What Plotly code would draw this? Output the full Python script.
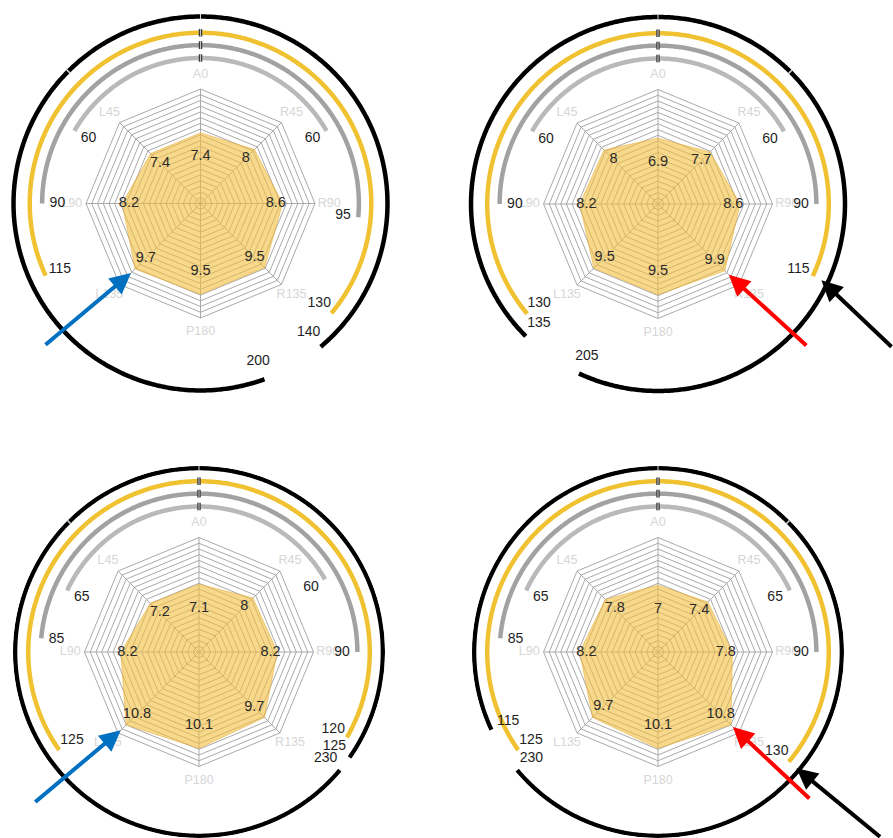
import numpy as np
import plotly.graph_objects as go

# ---- data -------------------------------------------------------------
directions = ["A0", "R45", "R90", "R135", "P180", "L135", "L90", "L45"]
angles = [0, 45, 90, 135, 180, 225, 270, 315]

vals_1 = [7.4, 8, 8.6, 9.5, 9.5, 9.7, 8.2, 7.4]
vals_2 = [6.9, 7.7, 8.6, 9.9, 9.5, 9.5, 8.2, 8]
vals_3 = [7.1, 8, 8.2, 9.7, 10.1, 10.8, 8.2, 7.2]
vals_4 = [7, 7.4, 7.8, 10.8, 10.1, 9.7, 8.2, 7.8]

# arc extents in degrees: (to the left / counter-clockwise, to the right / clockwise)
inner_1, gray_1, yellow_1, black_1 = (60, 60), (90, 95), (115, 130), (200, 140)
inner_2, gray_2, yellow_2, black_2 = (60, 60), (90, 90), (130, 115), (135, 205)
inner_3, gray_3, yellow_3, black_3 = (65, 60), (85, 90), (125, 120), (230, 125)
inner_4, gray_4, yellow_4, black_4 = (65, 65), (85, 90), (125, 130), (115, 230)

# ---- layout constants -------------------------------------------------
W, H = 893, 838
PX_PER_UNIT = 9.54
GRID_MAX = 12
GRID_STEPS = 20

centers = [(200.5, 203.5), (658, 204), (199, 652), (658, 652)]
panel_rpx = [200, 200, 186, 186]
black_r = [19.6, 19.6, 19.28, 19.28]
ring_r = {"inner": 15.25, "gray": 16.6, "yellow": 17.9}
ring_color = {"inner": "#b9b9b9", "gray": "#a2a2a2", "yellow": "#f0c232", "black": "#000000"}
label_off = {"inner": 1.7, "gray": 1.6, "yellow": 1.65, "black": 1.95}
value_off = [2.5, 1.3, 0.7, 1.5, 2.4, 1.6, 0.7, 1.4]
notch_side = [-1, 1, -1, 1]

FONT = "Arial, Liberation Sans, sans-serif"

panels = [
    dict(vals=vals_1, inner=inner_1, gray=gray_1, yellow=yellow_1, black=black_1),
    dict(vals=vals_2, inner=inner_2, gray=gray_2, yellow=yellow_2, black=black_2),
    dict(vals=vals_3, inner=inner_3, gray=gray_3, yellow=yellow_3, black=black_3),
    dict(vals=vals_4, inner=inner_4, gray=gray_4, yellow=yellow_4, black=black_4),
]


def to_paper(i, r, theta):
    cx, cy = centers[i]
    t = np.radians(theta)
    x = cx + r * PX_PER_UNIT * np.sin(t)
    y = cy - r * PX_PER_UNIT * np.cos(t)
    return x / W, 1 - y / H


fig = go.Figure()

for i, p in enumerate(panels):
    sp = "polar" if i == 0 else f"polar{i + 1}"
    common = dict(subplot=sp, showlegend=False, hoverinfo="skip", cliponaxis=False)
    radii = dict(ring_r, black=black_r[i])

    # octagonal grid rings
    rr, tt = [], []
    for k in range(1, GRID_STEPS + 1):
        rv = GRID_MAX * k / GRID_STEPS
        rr += [rv] * 9 + [None]
        tt += angles + [360, None]
    fig.add_trace(go.Scatterpolar(r=rr, theta=tt, mode="lines",
                                  line=dict(color="#a9a9a9", width=1), **common))
    # spokes
    rr, tt = [], []
    for a in angles:
        rr += [0, GRID_MAX, None]
        tt += [a, a, None]
    fig.add_trace(go.Scatterpolar(r=rr, theta=tt, mode="lines",
                                  line=dict(color="#a9a9a9", width=1), **common))
    # filled profile
    fig.add_trace(go.Scatterpolar(r=p["vals"] + [p["vals"][0]], theta=angles + [360],
                                  mode="lines", fill="toself",
                                  fillcolor="rgba(244,190,62,0.6)",
                                  line=dict(color="rgba(232,172,50,0.55)", width=1), **common))
    # value labels
    fig.add_trace(go.Scatterpolar(
        r=[v - o for v, o in zip(p["vals"], value_off)], theta=angles, mode="text",
        text=[f"{v:g}" for v in p["vals"]],
        textfont=dict(family=FONT, size=14.5, color="#2b2b2b"), **common))
    # direction labels
    fig.add_trace(go.Scatterpolar(
        r=[13.5] * 8, theta=angles, mode="text", text=directions,
        textfont=dict(family=FONT, size=12.5, color="#d6d6d6"), **common))

    # arcs
    for name in ["inner", "gray", "yellow", "black"]:
        left, right = p[name]
        th = np.linspace(-left, right, int(left + right) * 2 + 1)
        fig.add_trace(go.Scatterpolar(r=np.full(th.size, radii[name]), theta=th, mode="lines",
                                      line=dict(color=ring_color[name], width=4.5), **common))
    # separators at the top of the rings
    for name in ["inner", "gray", "yellow"]:
        r0 = radii[name]
        fig.add_trace(go.Scatterpolar(r=[r0 - 0.4, r0 + 0.4], theta=[0, 0], mode="lines",
                                      line=dict(color="#3c3c3c", width=3.5), **common))
        fig.add_trace(go.Scatterpolar(r=[r0 - 0.4, r0 + 0.4], theta=[0, 0], mode="lines",
                                      line=dict(color="#e8e8e8", width=0.8), **common))
    rb = radii["black"]
    fig.add_trace(go.Scatterpolar(r=[rb - 0.3, rb + 0.3], theta=[0, 0], mode="lines",
                                  line=dict(color="#d8d8d8", width=1), **common))
    fig.add_trace(go.Scatterpolar(r=[rb - 0.3, rb + 0.3], theta=[45 * notch_side[i]] * 2,
                                  mode="lines", line=dict(color="#d0d0d0", width=1.6), **common))

    # arc end labels
    lr, lt, lx = [], [], []
    for name in ["inner", "gray", "yellow", "black"]:
        left, right = p[name]
        for ang, txt in [(-left, left), (right, right)]:
            lr.append(radii[name] - label_off[name])
            lt.append(ang)
            lx.append(str(txt))
    fig.add_trace(go.Scatterpolar(r=lr, theta=lt, mode="text", text=lx,
                                  textfont=dict(family=FONT, size=14, color="#1e1e1e"), **common))

    cx, cy = centers[i]
    rpx = panel_rpx[i]
    fig.update_layout(**{sp: dict(
        domain=dict(x=[(cx - rpx) / W, (cx + rpx) / W],
                    y=[max(0.0, (H - cy - rpx) / H), min(1.0, (H - cy + rpx) / H)]),
        bgcolor="rgba(0,0,0,0)",
        radialaxis=dict(range=[0, rpx / PX_PER_UNIT], visible=False),
        angularaxis=dict(rotation=90, direction="clockwise", visible=False),
    )})

# arrows pointing at the highlighted corners and ring ends
arrows = [
    (0, vals_1[5] + 0.6, 225, -87, 73, "#0070c0"),
    (1, vals_2[3] + 0.6, 135, 79, 72, "#ff0000"),
    (1, ring_r["yellow"] + 1.0, yellow_2[1], 75, 68, "#000000"),
    (2, vals_3[5] + 0.8, 225, -87, 73, "#0070c0"),
    (3, vals_4[3] + 0.3, 135, 78, 73, "#ff0000"),
    (3, ring_r["yellow"] + 1.05, yellow_4[1], 85, 75, "#000000"),
]
for i, r, th, ax, ay, col in arrows:
    x, y = to_paper(i, r, th)
    fig.add_annotation(x=x, y=y, xref="paper", yref="paper", ax=ax, ay=ay, text="",
                       showarrow=True, arrowhead=2, arrowsize=1.05, arrowwidth=4,
                       arrowcolor=col, standoff=0)

fig.update_layout(width=W, height=H, margin=dict(l=0, r=0, t=0, b=0),
                  paper_bgcolor="white", plot_bgcolor="white", showlegend=False)

fig.write_html("out.html")
